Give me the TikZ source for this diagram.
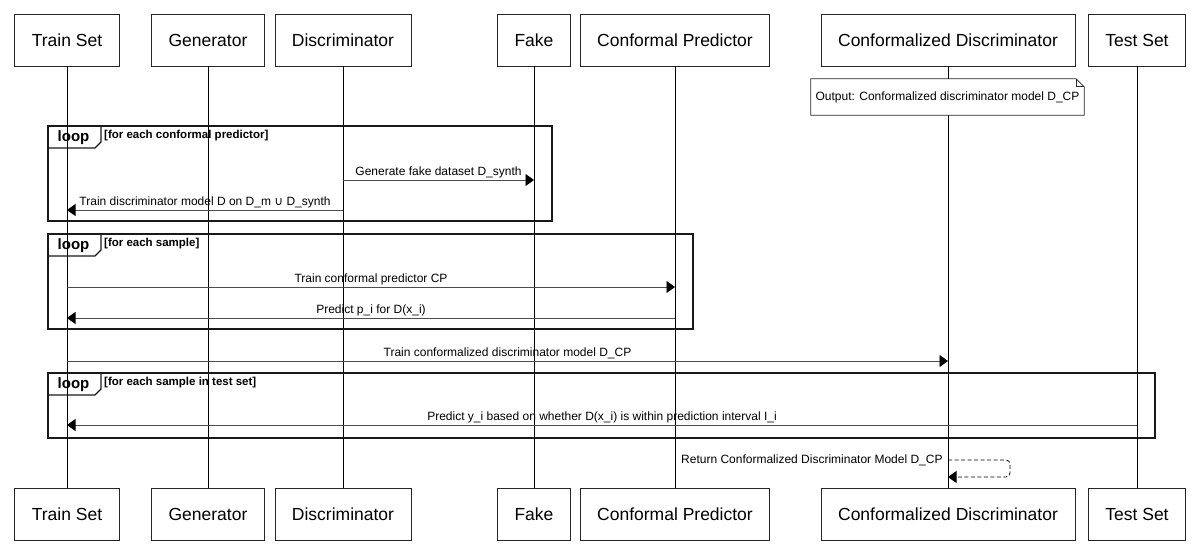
\documentclass[tikz,border=0pt]{standalone}
\usepackage{fontspec}
\setmainfont{Liberation Sans}
\newfontfamily\symfont{DejaVu Sans}
\usetikzlibrary{arrows.meta}

\begin{document}
\begin{tikzpicture}[x=1pt,y=-1pt,
    actor/.style={draw=black!85, fill=white, line width=0.8pt, minimum height=52pt,
        inner xsep=17pt, font=\fontsize{17.5}{20}\selectfont},
    life/.style={draw=black, line width=0.8pt},
    msg/.style={draw=black!70, line width=0.8pt, -{Triangle[length=8.5pt,width=12pt,fill=black,color=black]}},
    ret/.style={msg, draw=black, dashed, dash pattern=on 4pt off 2.5pt, rounded corners=4pt},
    lbl/.style={inner sep=2pt, text height=9pt, text depth=2.5pt, font=\fontsize{12}{14}\selectfont},
    frame/.style={draw=black!90, line width=1.6pt},
    guard/.style={anchor=base west, inner sep=0pt, font=\bfseries\fontsize{11.5}{13}\selectfont}]

    \useasboundingbox (0,0) rectangle (1200,550);

    % participants, top and bottom, with lifelines
    \foreach \name/\x/\txt in {ts/67/Train Set, gen/208/Generator, disc/343/Discriminator,
        fake/534/Fake, cp/675/Conformal Predictor, cd/948/Conformalized Discriminator, test/1137/Test Set}{%
        \node [actor] (\name) at (\x,40) {\txt};
        \node [actor] (\name2) at (\x,514) {\txt};
        \draw [life] (\name) -- (\name2);}

    \node [fill=white, minimum width=273pt, minimum height=36pt, inner sep=0pt,
        font=\fontsize{12}{14}\selectfont] (note) at (947.5,97) {Output: Conformalized discriminator model D\_CP};
    \draw [black!85, line width=0.8pt] (note.north west) -- ([xshift=-8pt]note.north east)
        -- ([yshift=-8pt]note.north east) -- (note.south east) -- (note.south west) -- cycle;
    \draw [black!85, line width=0.8pt] ([xshift=-8pt]note.north east)
        -- ([xshift=-8pt,yshift=-8pt]note.north east) -- ([yshift=-8pt]note.north east);

    % loop frames
    \foreach \top/\bot/\rx/\g [count=\i] in {126/221/552/for each conformal predictor,
        234/329/693/for each sample, 373/438/1155/for each sample in test set}{%
        \draw [frame] (48,\top) rectangle (\rx,\bot);
        \draw [frame, line width=1.2pt] (48,\top) -- (101,\top) -- (101,\top+16) -- (95,\top+22) -- (48,\top+22);
        \node [font=\bfseries\fontsize{15}{17}\selectfont, inner sep=0pt] (tab\i) at (73.5,\top+11.5) {loop};
        \node [guard] (guard\i) at (104,\top+12) {[\g]};}

    % messages
    \draw [msg] (disc |- 0,180) -- node [lbl, above] {Generate fake dataset D\_synth} (fake |- 0,180);
    \draw [msg] (disc |- 0,210) -- node [lbl, above] {Train discriminator model D on D\_m {\symfont ∪} D\_synth} (ts |- 0,210);
    \draw [msg] (ts |- 0,287) -- node [lbl, above] {Train conformal predictor CP} (cp |- 0,287);
    \draw [msg] (cp |- 0,318) -- node [lbl, above] {Predict p\_i for D(x\_i)} (ts |- 0,318);
    \draw [msg] (ts |- 0,361) -- node [lbl, above] {Train conformalized discriminator model D\_CP} (cd |- 0,361);
    \draw [msg] (test |- 0,425) -- node [lbl, above] {Predict y\_i based on whether D(x\_i) is within prediction interval I\_i} (ts |- 0,425);
    \draw [ret] (cd |- 0,460) node [lbl, anchor=east, inner sep=5pt] {Return Conformalized Discriminator Model D\_CP}
        -- (1010,460) -- (1010,477) -- (cd |- 0,477);
\end{tikzpicture}
\end{document}
